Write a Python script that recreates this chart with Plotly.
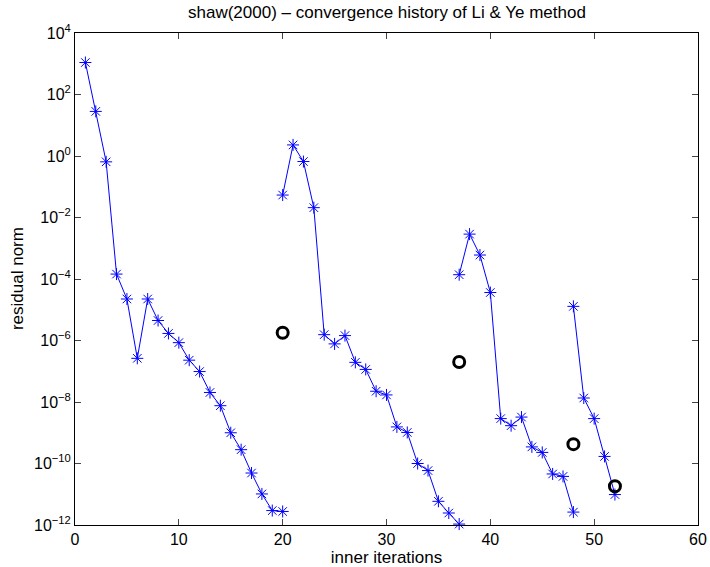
import plotly.graph_objects as go

# Segment data (log10 of residual norm), x = inner iteration
seg1_x = list(range(1, 21))
seg1_log = [3.04, 1.45, -0.19, -3.84, -4.65, -6.58, -4.65, -5.35, -5.77, -6.07,
            -6.64, -7.01, -7.69, -8.12, -9.0, -9.55, -10.31, -10.99, -11.53, -11.56]
seg2_x = list(range(20, 38))
seg2_log = [-1.27, 0.36, -0.18, -1.68, -5.81, -6.11, -5.84, -6.71, -6.94, -7.65,
            -7.77, -8.81, -8.99, -10.0, -10.23, -11.23, -11.61, -11.97]
seg3_x = list(range(37, 49))
seg3_log = [-3.86, -2.54, -3.22, -4.44, -8.54, -8.77, -8.49, -9.46, -9.64, -10.34,
            -10.42, -11.58]
seg4_x = list(range(48, 53))
seg4_log = [-4.89, -7.87, -8.54, -9.77, -11.01]
circ_x = [20, 37, 48, 52]
circ_log = [-5.75, -6.70, -9.37, -10.74]

segments = [(seg1_x, seg1_log), (seg2_x, seg2_log), (seg3_x, seg3_log), (seg4_x, seg4_log)]

ytick_exp = [4, 2, 0, -2, -4, -6, -8, -10, -12]
xtick_vals = [0, 10, 20, 30, 40, 50, 60]

fig = go.Figure()
for sx, sl in segments:
    fig.add_trace(go.Scatter(
        x=sx, y=[10 ** v for v in sl], mode="lines+markers",
        line=dict(color="#0000ff", width=1),
        marker=dict(symbol="asterisk-open", size=10, color="#0000ff",
                    line=dict(color="#0000ff", width=1)),
        showlegend=False, cliponaxis=False))
fig.add_trace(go.Scatter(
    x=circ_x, y=[10 ** v for v in circ_log], mode="markers",
    marker=dict(symbol="circle-open", size=11, color="black",
                line=dict(color="black", width=3)),
    showlegend=False))

FAM = "Liberation Sans, Arial, sans-serif"
fig.update_layout(
    width=710, height=567,
    margin=dict(l=75, r=12, t=33, b=42, autoexpand=False),
    paper_bgcolor="white", plot_bgcolor="white",
    font=dict(family=FAM, size=16, color="black"),
    title=dict(text="shaw(2000) \u2013 convergence history of Li & Ye method",
               x=0.545, xanchor="center", xref="container", y=0.978, yanchor="middle",
               font=dict(family=FAM, size=17)),
    annotations=[dict(text="residual norm", textangle=-90, xref="paper", yref="paper",
                      x=-0.093, y=0.5, xanchor="center", yanchor="middle",
                      showarrow=False, font=dict(family=FAM, size=17))],
)
fig.update_xaxes(
    range=[0, 60], tickvals=xtick_vals, ticks="inside", ticklen=6,
    showline=True, linecolor="black", linewidth=1, mirror="allticks",
    showgrid=False, zeroline=False, automargin=False,
    title=dict(text="inner iterations", standoff=0, font=dict(size=17)),
    tickfont=dict(size=16),
)
fig.update_yaxes(
    type="log", range=[-12, 4],
    tickvals=[10 ** e for e in ytick_exp],
    ticktext=["10<sup>%s</sup>" % (str(e).replace("-", "\u2212")) for e in ytick_exp],
    ticks="inside", ticklen=6,
    showline=True, linecolor="black", linewidth=1, mirror="allticks",
    showgrid=False, zeroline=False, automargin=False,
    tickfont=dict(size=16),
)
fig.write_html("out.html")
